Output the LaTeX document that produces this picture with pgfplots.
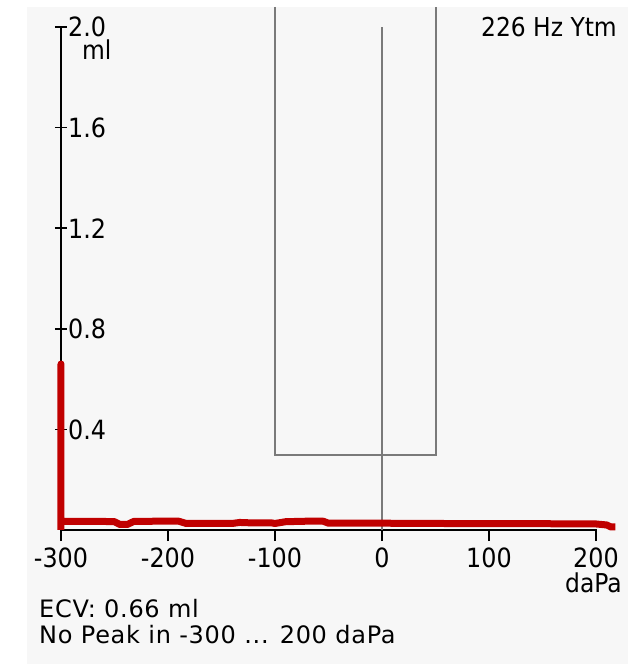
\documentclass[border=0pt]{standalone}
\usepackage{pgfplots}
\pgfplotsset{compat=1.18}
\usepackage{fontspec}
\setmainfont{DejaVu Sans}[FakeStretch=0.9]
\newfontfamily\wide{DejaVu Sans}[LetterSpace=3]
\definecolor{bg}{RGB}{247,247,247}
\definecolor{curvered}{RGB}{192,0,0}
\definecolor{guide}{RGB}{122,122,122}
\begin{document}
\begin{tikzpicture}[x=1pt,y=1pt]
\fill[white] (0,0) rectangle (628,664);
\fill[bg] (27,0) rectangle (628,657);
\path[use as bounding box] (0,0) rectangle (628,664);
\begin{axis}[
  at={(61pt,134pt)}, anchor=south west,
  scale only axis, width=535pt, height=503pt,
  xmin=-300, xmax=200, ymin=0, ymax=2,
  enlargelimits=false, clip=false,
  axis x line=bottom, axis y line=left,
  axis line style={-, black, line width=1.5pt},
  tick align=center, major tick length=12pt,
  every tick/.style={black, line width=1.5pt},
  major x tick style={yshift=-5pt},
  xtick={-300,-200,-100,0,100,200},
  xticklabels={-300,-200,-100,0,100,200},
  ytick={0.4,0.8,1.2,1.6,2.0},
  yticklabels={0.4,0.8,1.2,1.6,2.0},
  ticklabel style={font=\fontsize{26.5}{31}\selectfont, inner sep=0pt},
  xticklabel style={anchor=north, yshift=-12pt},
  yticklabel style={anchor=west, xshift=13pt},
]
\addplot[guide, line width=2pt] coordinates {(-100,2.08) (-100,0.3) (50,0.3) (50,2.08)};
\addplot[guide, line width=2pt] coordinates {(0,0) (0,2.0)};
\addplot[curvered, line width=7pt, line join=round] coordinates {
(-300,0) (-300,0.66) (-300,0.034) (-280,0.034) (-260,0.034) (-250,0.033)
(-245,0.022) (-238,0.022) (-232,0.034) (-210,0.035) (-190,0.035)
(-183,0.026) (-160,0.026) (-140,0.026) (-133,0.030) (-120,0.028)
(-103,0.028) (-100,0.026) (-90,0.033) (-70,0.035) (-55,0.035)
(-50,0.027) (0,0.027) (50,0.026) (100,0.025) (150,0.025) (200,0.024)
(210,0.020) (214,0.012) (218,0.012)};
\end{axis}
\begin{scope}[every node/.style={inner sep=0pt, font=\fontsize{26}{31}\selectfont}]
\node[anchor=base east] at (617,627) {226 Hz Ytm};
\node[anchor=base west] at (82,604) {ml};
\node[anchor=base east] at (622,71) {daPa};
\node[anchor=base west, font=\wide\fontsize{24}{29}\selectfont] at (39,46) {ECV: 0.66 ml};
\node[anchor=base west, font=\wide\fontsize{24}{29}\selectfont] at (39,20) {No Peak in -300 ... 200 daPa};
\end{scope}
\end{tikzpicture}
\end{document}
